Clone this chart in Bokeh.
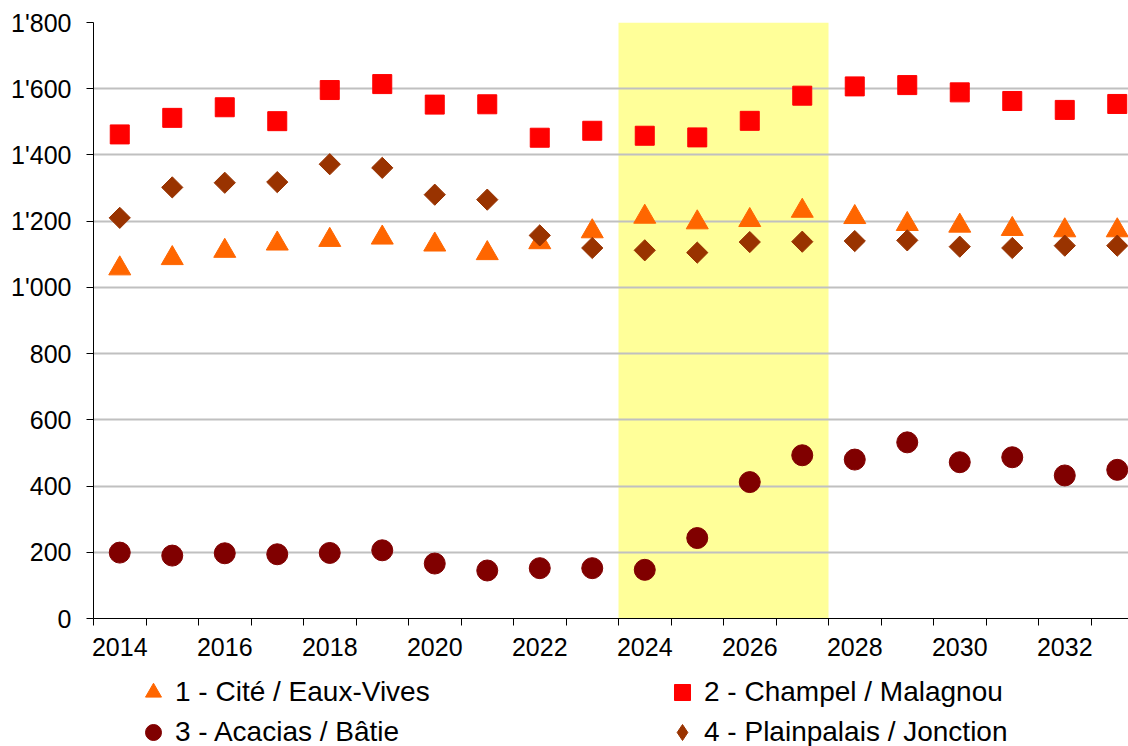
import math
from bokeh.plotting import figure
from bokeh.layouts import column
from bokeh.models import FixedTicker, Legend, LegendItem
from bokeh.embed import file_html
from bokeh.resources import INLINE

# ---- data -------------------------------------------------------------
years = list(range(2014, 2034))
cite = [1057, 1088, 1110, 1132, 1143, 1150, 1129, 1103, 1136, 1169,
        1213, 1196, 1203, 1231, 1212, 1191, 1186, 1176, 1172, 1172]
champel = [1462, 1512, 1544, 1502, 1596, 1614, 1552, 1553, 1452, 1473,
           1458, 1453, 1503, 1579, 1607, 1611, 1589, 1563, 1536, 1554]
acacias = [199, 190, 197, 194, 198, 206, 166, 145, 152, 152,
           147, 243, 412, 493, 480, 532, 472, 487, 432, 449]
plainpalais = [1210, 1302, 1316, 1318, 1372, 1361, 1280, 1265, 1157, 1119,
               1112, 1105, 1137, 1138, 1140, 1142, 1123, 1119, 1126, 1126]
series_names = ["1 - Cité / Eaux-Vives", "2 - Champel / Malagnou",
                "3 - Acacias / Bâtie", "4 - Plainpalais / Jonction"]
x_tick_years = list(range(2014, 2033, 2))
x_tick_labels = ["2014", "2016", "2018", "2020", "2022", "2024", "2026",
                 "2028", "2030", "2032"]
y_ticks = [0, 200, 400, 600, 800, 1000, 1200, 1400, 1600, 1800]
y_tick_labels = ["0", "200", "400", "600", "800", "1'000", "1'200",
                 "1'400", "1'600", "1'800"]
band_first_year, band_last_year = 2024, 2027
band_top = 1800

FONT = "Liberation Sans"
styles = [
    dict(marker="triangle", size=22, fill_color="#FF6600", line_color="#FF6600"),
    dict(marker="square", size=19, fill_color="#FF0000", line_color="#FF0000"),
    dict(marker="circle", size=21, fill_color="#800000", line_color="#800000"),
    dict(marker="square", size=15, angle=math.pi / 4,
         fill_color="#993300", line_color="#993300"),
]
legend_styles = [
    dict(marker="triangle", fill_color="#FF6600", line_color="#FF6600"),
    dict(marker="square", fill_color="#FF0000", line_color="#FF0000"),
    dict(marker="circle", fill_color="#800000", line_color="#800000"),
    dict(marker="diamond", fill_color="#993300", line_color="#993300"),
]
series_values = [cite, champel, acacias, plainpalais]

# ---- main chart -------------------------------------------------------
p = figure(width=1128, height=670,
           x_range=(2013.5, 2033.214), y_range=(0, 1800),
           output_backend="svg", toolbar_location=None,
           min_border_left=93, min_border_right=0,
           min_border_top=22, min_border_bottom=52)
p.outline_line_color = None
p.background_fill_color = "white"
p.border_fill_color = "white"

band = p.quad(left=[band_first_year - 0.5], right=[band_last_year + 0.5],
              bottom=[0], top=[band_top],
              fill_color="#FFFF99", line_color=None)
band.level = "image"

for vals, st in zip(series_values, styles):
    p.scatter(years, vals, **st)

xa = p.xaxis[0]
xa.ticker = FixedTicker(ticks=x_tick_years,
                        minor_ticks=[y - 0.5 for y in years] + [years[-1] + 0.5])
xa.major_label_overrides = {y: l for y, l in zip(x_tick_years, x_tick_labels)}
xa.major_tick_line_color = None
xa.minor_tick_line_color = "black"
xa.minor_tick_in = 0
xa.minor_tick_out = 7
xa.axis_line_color = "black"
xa.major_label_text_font = FONT
xa.major_label_text_font_size = "25px"
xa.major_label_text_color = "black"
xa.major_label_standoff = 12

ya = p.yaxis[0]
ya.ticker = FixedTicker(ticks=y_ticks)
ya.major_label_overrides = {t: l for t, l in zip(y_ticks, y_tick_labels)}
ya.major_tick_in = 0
ya.major_tick_out = 7
ya.major_tick_line_color = "black"
ya.minor_tick_line_color = None
ya.axis_line_color = "black"
ya.major_label_text_font = FONT
ya.major_label_text_font_size = "25px"
ya.major_label_text_color = "black"
ya.major_label_standoff = 15

p.xgrid.visible = False
p.ygrid.ticker = FixedTicker(ticks=y_ticks)
p.ygrid.grid_line_color = "#C0C0C0"
p.ygrid.grid_line_width = 2

# ---- legend strip (same series, plotted outside its view) --------------
lg = figure(width=1128, height=76, x_range=(0, 1), y_range=(0, 1),
            output_backend="svg", toolbar_location=None,
            x_axis_location=None, y_axis_location=None,
            min_border=0)
lg.outline_line_color = None
lg.grid.visible = False
lg.background_fill_color = "white"
lg.border_fill_color = "white"
legend_renderers = [lg.scatter(years, vals, **st)
                    for vals, st in zip(series_values, legend_styles)]

legend = Legend(items=[LegendItem(label=n, renderers=[r])
                       for n, r in zip(series_names, legend_renderers)],
                orientation="horizontal", ncols=2,
                location=(40, -6),
                glyph_width=40, glyph_height=40, label_height=40,
                label_width=487, label_standoff=2, spacing=0,
                padding=0, margin=0,
                border_line_color=None, background_fill_alpha=0,
                label_text_font=FONT, label_text_font_size="28px",
                label_text_color="black")
lg.add_layout(legend, "center")

layout = column(p, lg, spacing=0)
open("out.html", "w").write(file_html(layout, INLINE))
